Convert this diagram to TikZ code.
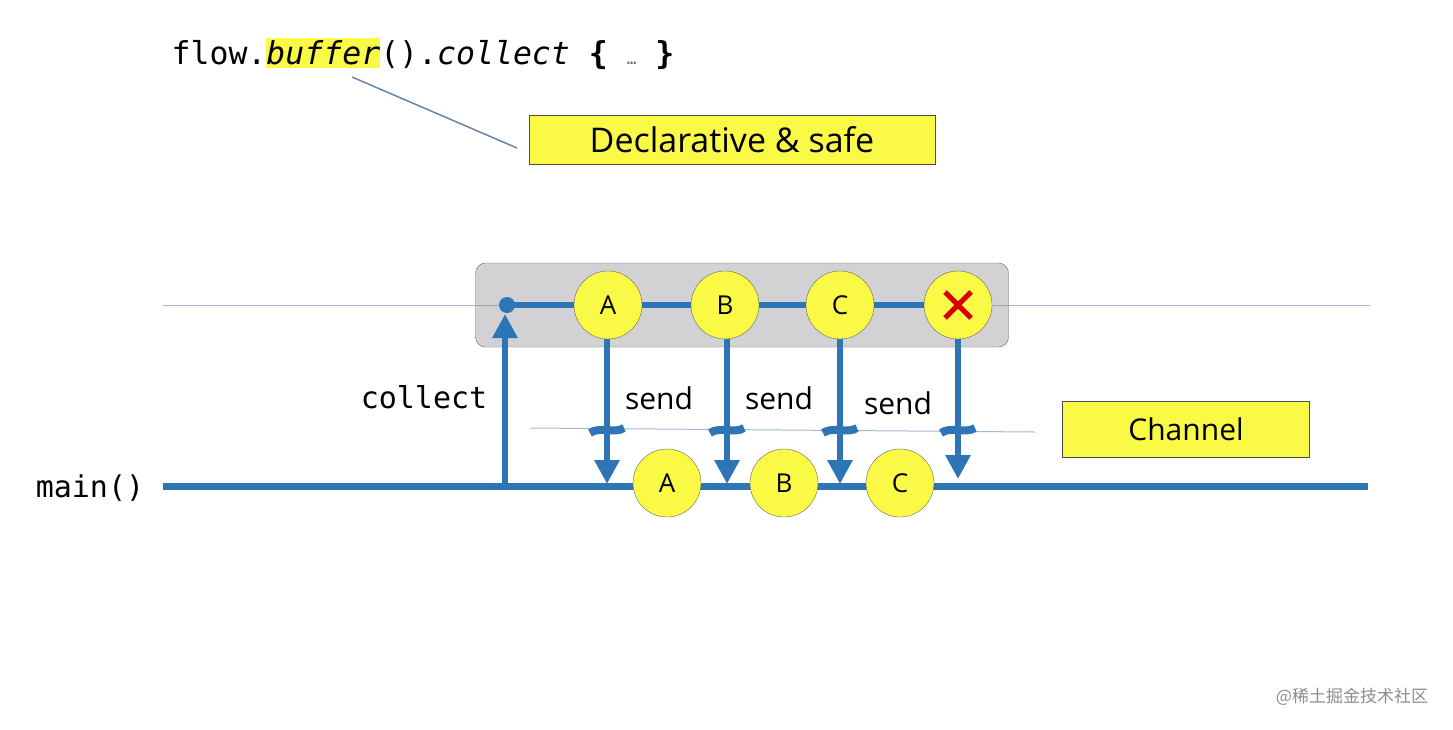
\documentclass[tikz,border=0pt]{standalone}
\usepackage{fontspec}
\setmainfont{Open Sans}
\setmonofont{DejaVu Sans Mono}
\newfontfamily\cjk{Noto Sans CJK SC}
\usetikzlibrary{arrows.meta,positioning}
\definecolor{flowblue}{RGB}{46,117,182}
\definecolor{thinblue}{RGB}{160,185,215}
\definecolor{boxgray}{RGB}{210,210,212}
\definecolor{hl}{RGB}{250,250,70}
\tikzset{
  ball/.style={circle,draw=black!60,fill=hl,minimum size=68pt,inner sep=0pt,font=\fontsize{26}{28}\selectfont},
  note/.style={draw=black!70,fill=hl,inner sep=0pt,font=\fontsize{34}{38}\selectfont},
  lab/.style={font=\ttfamily\fontsize{30}{32}\selectfont},
  flow/.style={flowblue,line width=6pt},
  send/.style={flowblue,line width=6pt,-{Triangle[length=24pt,width=24pt]}},
  tick/.style={flowblue,line width=8pt}
}
\begin{document}
\begin{tikzpicture}[x=1pt,y=-1pt]
\useasboundingbox (0,0) rectangle (1453,729);

% code line and remark
\node (code) at (423,54) [lab,inner sep=0pt,font=\ttfamily\fontsize{31.5}{33}\selectfont] {flow.\colorbox{hl}{\kern-3pt\textit{buffer}\kern-3pt}().\textit{collect} \textbf{\{} {\color{black!60}\fontsize{16}{18}\selectfont\dots} \textbf{\}}};
\node (decl) at (732,140) [note,minimum width=406pt,minimum height=49pt] {Declarative \& safe};
\coordinate (hook) at (352,77);
\coordinate (hookend) at (517,148);
\draw [black!30!flowblue!70,line width=1.5pt] (hook) -- (hookend);

% thin time line
\coordinate (t0) at (163,305);
\coordinate (t1) at (1370,305);
\draw [thinblue,line width=1pt] (t0) -- (t1);

% buffer box
\node (buf) at (742,305) [draw=black!60,fill=boxgray,rounded corners=10pt,minimum width=533pt,minimum height=84pt] {};
\draw [black!35,line width=0.8pt] (buf.west) -- (buf.east);
\coordinate (start) at (507,305);
\coordinate (stop) at (958,305);
\draw [flow] (start) -- (stop);
\fill [flowblue] (start) circle (8pt);
\node (uA) at (608,305) [ball] {A};
\node (uB) at (725,305) [ball] {B};
\node (uC) at (840,305) [ball] {C};
\node (uX) at (958,305) [ball] {};
\draw [red!85!black,line width=5pt] ([shift={(-13,-13)}]uX.center) -- ([shift={(13,13)}]uX.center)
  ([shift={(13,-13)}]uX.center) -- ([shift={(-13,13)}]uX.center);

% main line
\node (main) at (90,488) [lab] {main()};
\coordinate (m0) at (163,486);
\coordinate (m1) at (1368,486);
\draw [flow,line width=7pt] (m0) -- (m1);
\node (dA) at (667,483) [ball] {A};
\node (dB) at (784,483) [ball] {B};
\node (dC) at (900,483) [ball] {C};

% channel line
\coordinate (c0) at (530,428);
\coordinate (c1) at (1035,432);
\draw [thinblue,line width=1pt] (c0) -- (c1);
\node (chan) at (1186,429) [note,minimum width=247pt,minimum height=56pt,font=\fontsize{30}{34}\selectfont] {Channel};

% collect and sends
\coordinate (cbot) at (505,486);
\coordinate (ctop) at (505,314);
\draw [send] (cbot) -- (ctop);
\node (col) at (424,397) [lab] {collect};
\foreach \n/\x/\y in {A/607/484,B/727/484,C/840/484,X/958/479} {
  \coordinate (e\n) at (\x,\y);
  \draw [send] (u\n.south -| e\n) -- (e\n);
  \draw [tick] (\x-17,433) .. controls (\x-8,426) and (\x+8,434) .. (\x+17,428);
}
\node (s1) at (659,398) [font=\fontsize{30}{32}\selectfont] {send};
\node (s2) at (779,398) [font=\fontsize{30}{32}\selectfont] {send};
\node (s3) at (898,403) [font=\fontsize{30}{32}\selectfont] {send};

% watermark
\node (wm) at (1352,697) [text=black!45,font=\cjk\fontsize{17}{19}\selectfont] {@稀土掘金技术社区};
\end{tikzpicture}
\end{document}
